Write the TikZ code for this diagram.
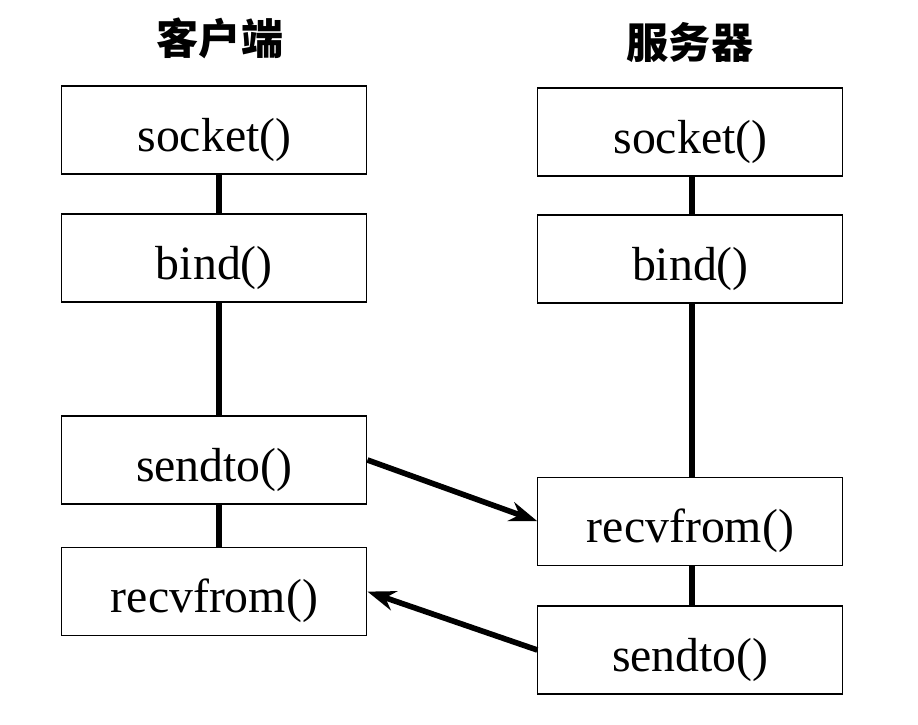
\documentclass[tikz,border=0pt]{standalone}
\usepackage{fontspec}
\setmainfont{Liberation Serif}
\newfontfamily\cjk{Noto Sans CJK SC}
\usetikzlibrary{arrows.meta}

\begin{document}
\begin{tikzpicture}[
  x=1cm, y=-1cm,
  >={Stealth[length=7mm,width=5mm]},
  call/.style={draw=black, fill=white, line width=0.8pt, minimum width=7.625cm, minimum height=2.2cm,
    text height=37pt, text depth=7pt, font=\fontsize{34}{40}\selectfont},
  side/.style={font=\cjk\bfseries\fontsize{30}{36}\selectfont},
  link/.style={line width=4.3pt, draw=black},
  msg/.style={->, line width=4pt, draw=black},
]
\useasboundingbox (0,0) rectangle (22.95,18.1);
% ---------------------------------------------------------------- titles
\node[side] (client) at (5.5,0.95) {客户端};
\node[side] (server) at (17.25,1.05) {服务器};

% ---------------------------------------------------------------- client
\node[call] (csock) at (5.36,3.25) {socket()};
\node[call] (cbind) at (5.36,6.45) {bind()};
\node[call] (csend) at (5.36,11.5) {sendto()};
\node[call] (crecv) at (5.36,14.79) {recvfrom()};

% ---------------------------------------------------------------- server
\node[call] (ssock) at (17.26,3.3) {socket()};
\node[call] (sbind) at (17.26,6.475) {bind()};
\node[call] (srecv) at (17.26,13.03) {recvfrom()};
\node[call] (ssend) at (17.26,16.25) {sendto()};

% ---------------------------------------------------------------- edges
\draw[link] ([xshift=0.11cm]csock.south) -- ([xshift=0.11cm]cbind.north);
\draw[link] ([xshift=0.11cm]cbind.south) -- ([xshift=0.11cm]csend.north);
\draw[link] ([xshift=0.11cm]csend.south) -- ([xshift=0.11cm]crecv.north);
\draw[link] ([xshift=0.04cm]ssock.south) -- ([xshift=0.04cm]sbind.north);
\draw[link] ([xshift=0.04cm]sbind.south) -- ([xshift=0.04cm]srecv.north);
\draw[link] ([xshift=0.04cm]srecv.south) -- ([xshift=0.04cm]ssend.north);

\draw[msg] (csend.east) -- (srecv.west);
\draw[msg] (ssend.west) -- (crecv.east);
\end{tikzpicture}
\end{document}
